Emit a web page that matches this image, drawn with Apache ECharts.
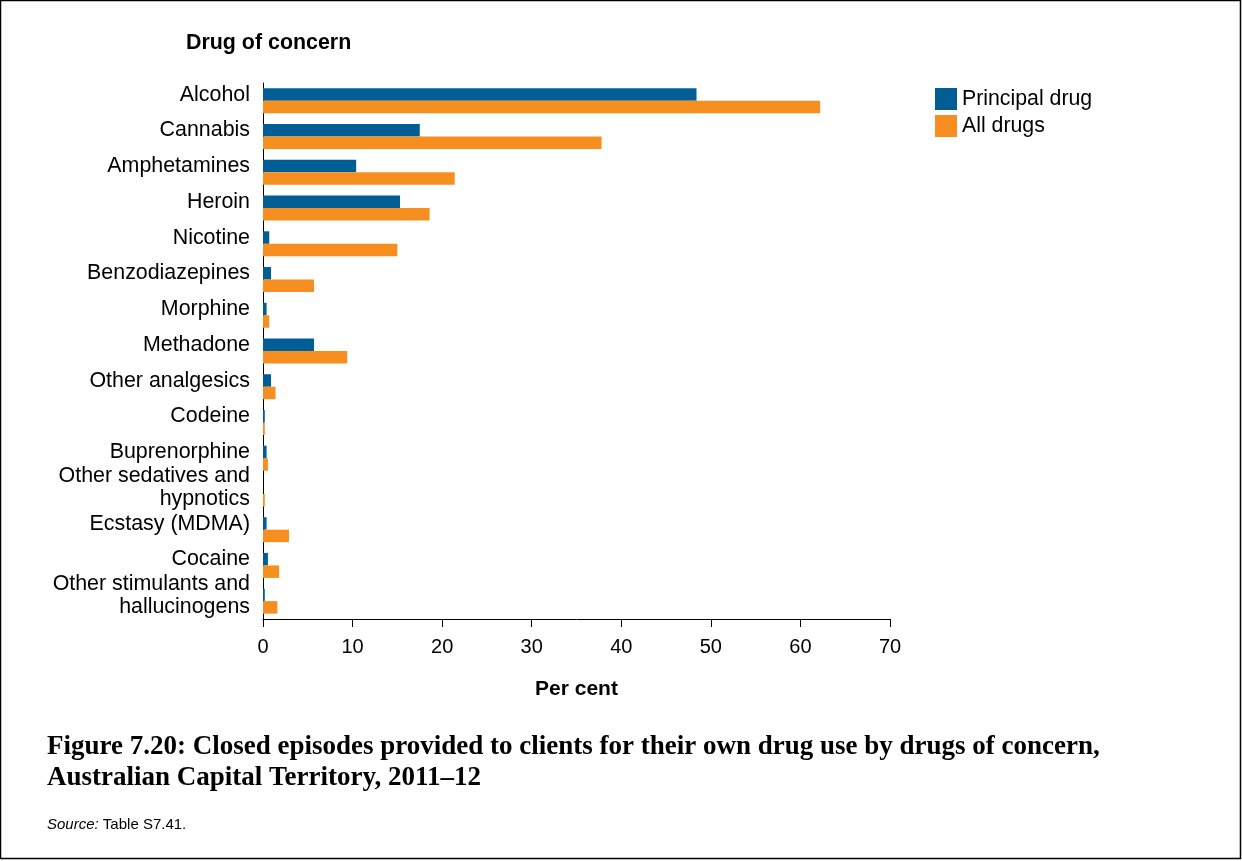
<!DOCTYPE html>
<html>
<head>
<meta charset="utf-8">
<script src="https://cdn.jsdelivr.net/npm/echarts@6/dist/echarts.min.js"></script>
<style>
html,body{margin:0;padding:0;background:#fff;}
#chart{width:1242px;height:861px;}
</style>
</head>
<body>
<div id="chart"></div>
<script>
const categories = ['Alcohol','Cannabis','Amphetamines','Heroin','Nicotine','Benzodiazepines','Morphine','Methadone','Other analgesics','Codeine','Buprenorphine','Other sedatives and\nhypnotics','Ecstasy (MDMA)','Cocaine','Other stimulants and\nhallucinogens'];
const principalDrug = [48.4, 17.5, 10.4, 15.3, 0.7, 0.9, 0.4, 5.7, 0.9, 0.2, 0.4, 0, 0.4, 0.55, 0.2];
const allDrugs = [62.2, 37.8, 21.4, 18.6, 15.0, 5.7, 0.7, 9.4, 1.4, 0.2, 0.55, 0.2, 2.9, 1.8, 1.6];
const xTicks = [0, 10, 20, 30, 40, 50, 60, 70];
const seriesNames = ['Principal drug', 'All drugs'];

const chart = echarts.init(document.getElementById('chart'), null, {renderer: 'canvas'});
const font = 'Liberation Sans, Arial, sans-serif';
chart.setOption({
  animation: false,
  backgroundColor: '#fff',
  grid: {left: 263, top: 83, right: 352, bottom: 242, containLabel: false},
  legend: {
    orient: 'vertical', left: 930, top: 83,
    itemWidth: 22, itemHeight: 22, itemGap: 5,
    icon: 'rect',
    textStyle: {fontFamily: font, fontSize: 21.3, color: '#000', padding: [4, 0, 0, 0]},
    data: seriesNames
  },
  xAxis: {
    type: 'value', min: xTicks[0], max: xTicks[xTicks.length - 1], interval: 10,
    name: 'Per cent', nameLocation: 'middle', nameGap: 60,
    nameTextStyle: {fontFamily: font, fontSize: 21, fontWeight: 'bold', color: '#000'},
    axisLine: {show: true, lineStyle: {color: '#000', width: 1}},
    axisTick: {show: true, length: 8, lineStyle: {color: '#000'}},
    axisLabel: {fontFamily: font, fontSize: 20, color: '#000', margin: 18},
    splitLine: {show: false}
  },
  yAxis: {
    type: 'category', data: categories, inverse: true,
    axisLine: {show: true, lineStyle: {color: '#000', width: 1}},
    axisTick: {show: false},
    axisLabel: {
      color: '#000', margin: 13,
      interval: 0, showMinLabel: true, showMaxLabel: true, hideOverlap: false,
      align: 'right',
      formatter: function (v) {
        return v.split('\n').map(function (l) { return '{a|' + l + '}'; }).join('\n') + '\n{s| }';
      },
      rich: {
        a: {fontFamily: font, fontSize: 21.4, color: '#000', lineHeight: 23, align: 'right'},
        s: {fontSize: 1, lineHeight: 12}
      }
    },
    splitLine: {show: false}
  },
  series: [
    {name: seriesNames[0], type: 'bar', data: principalDrug, barWidth: 12.5, barGap: '0%', itemStyle: {color: '#005E95'}},
    {name: seriesNames[1], type: 'bar', data: allDrugs, barWidth: 12.5, barGap: '0%', itemStyle: {color: '#F68F20'}}
  ],
  graphic: [
    {type: 'rect', shape: {x: 0.5, y: 0.5, width: 1240, height: 858}, style: {fill: 'none', stroke: '#000', lineWidth: 1.5}, silent: true},
    {type: 'text', left: 186, top: 33, style: {text: 'Drug of concern', font: 'bold 21.4px ' + font, fill: '#000'}},
    {type: 'text', left: 47, top: 732, style: {text: 'Figure 7.20: Closed episodes provided to clients for their own drug use by drugs of concern,\nAustralian Capital Territory, 2011–12', font: 'bold 27px "Liberation Serif", "DejaVu Serif", serif', fill: '#000', lineHeight: 31}},
    {type: 'text', left: 47, top: 817, style: {
      text: '{i|Source:} Table S7.41.',
      rich: {i: {fontStyle: 'italic', fontFamily: font, fontSize: 15, fill: '#000'}},
      font: '15px ' + font, fill: '#000'}}
  ]
});
</script>
</body>
</html>
